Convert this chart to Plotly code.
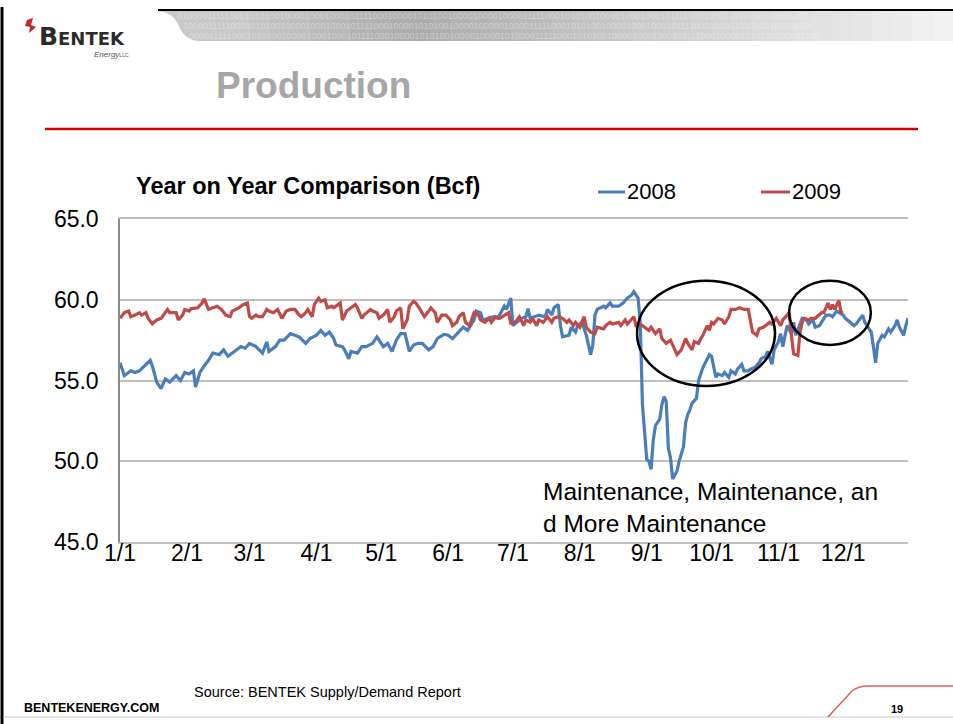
import plotly.graph_objects as go

# ---------------- data ----------------
month_ticks = [0, 31, 60, 91, 121, 152, 182, 213, 244, 274, 305, 335]
month_labels = ["1/1", "2/1", "3/1", "4/1", "5/1", "6/1", "7/1", "8/1", "9/1", "10/1", "11/1", "12/1"]
y_ticks = [45, 50, 55, 60, 65]
y_labels = ["45.0", "50.0", "55.0", "60.0", "65.0"]

days_2008 = [0, 2, 5, 7, 9, 12, 14, 15, 17, 19, 21, 23, 26, 28, 30, 32, 34, 35, 37, 39,
             41, 43, 46, 48, 50, 53, 56, 58, 60, 63, 66, 68, 69, 72, 74, 76, 79, 81, 83, 86,
             88, 91, 93, 95, 97, 99, 100, 103, 104, 106, 107, 110, 112, 114, 117, 119, 120, 122, 124, 126,
             128, 130, 132, 134, 136, 138, 140, 143, 145, 147, 150, 152, 154, 157, 159, 161, 164, 165, 167, 168,
             171, 173, 175, 178, 179, 181, 182, 184, 186, 188, 189, 190, 192, 194, 197, 198, 200, 201, 203, 204,
             205, 208, 209, 211, 212, 214, 216, 218, 219, 220, 221, 224, 225, 227, 228, 231, 233, 235, 237, 238,
             240, 241, 242, 243, 244, 245, 246, 247, 248, 250, 251, 252, 253, 254, 255, 256, 258, 259, 261, 262,
             263, 264, 265, 267, 268, 270, 271, 273, 274, 275, 276, 277, 279, 280, 282, 283, 285, 286, 288, 289,
             291, 292, 294, 296, 297, 299, 300, 302, 303, 305, 306, 307, 308, 309, 311, 312, 313, 315, 316, 318,
             319, 321, 322, 324, 326, 327, 329, 330, 332, 333, 335, 336, 338, 340, 341, 343, 344, 345, 347, 348,
             350, 351, 353, 354, 356, 357, 359, 360, 361, 363, 364, 365]
prod_2008 = [56.1, 55.3, 55.6, 55.5, 55.6, 56.0, 56.25, 55.9, 54.9, 54.5, 55.1, 54.9, 55.3, 55.0, 55.5, 55.4, 55.6, 54.6, 55.5, 55.9,
             56.25, 56.7, 56.6, 56.9, 56.5, 56.8, 57.1, 57.0, 57.3, 57.1, 56.7, 57.4, 56.8, 57.1, 57.5, 57.5, 57.9, 57.8, 57.7, 57.3,
             57.6, 57.8, 58.1, 57.8, 58.0, 57.6, 57.2, 57.1, 56.9, 56.35, 56.8, 56.7, 57.1, 57.1, 57.3, 57.7, 57.5, 57.1, 57.3, 56.8,
             57.5, 57.9, 57.9, 56.8, 57.2, 57.3, 57.3, 56.9, 57.1, 57.6, 57.85, 57.8, 57.6, 58.0, 58.3, 58.1, 58.75, 59.3, 59.2, 58.75,
             58.85, 58.95, 58.85, 59.6, 59.4, 60.1, 58.4, 58.6, 58.85, 58.95, 59.45, 58.85, 58.95, 59.05, 58.95, 59.4, 59.05, 59.5, 59.7, 58.4,
             57.7, 57.8, 58.3, 58.0, 58.4, 58.6, 57.8, 56.6, 57.2, 59.05, 59.4, 59.6, 59.5, 59.8, 59.6, 59.6, 59.8, 60.1, 60.3, 60.5,
             60.1, 58.5, 53.5, 51.65, 50.1, 50.0, 49.5, 51.3, 52.2, 52.6, 53.5, 54.0, 53.7, 50.8, 50.2, 48.9, 49.4, 50.0, 50.9, 52.4,
             52.9, 53.2, 53.6, 53.9, 55.0, 55.8, 56.1, 56.6, 56.5, 55.7, 55.2, 55.4, 55.3, 55.5, 55.2, 55.6, 55.4, 55.7, 56.0, 55.6,
             55.6, 55.7, 55.8, 56.1, 56.35, 56.5, 56.8, 56.0, 56.9, 57.4, 57.9, 57.1, 57.8, 58.4, 57.9, 58.6, 57.8, 58.5, 58.85, 58.75,
             58.5, 58.75, 58.3, 58.4, 58.85, 59.05, 59.05, 58.95, 59.3, 59.2, 59.05, 58.85, 58.6, 58.4, 58.5, 58.85, 59.05, 58.6, 58.2, 58.0,
             56.1, 57.3, 57.8, 57.7, 58.2, 58.0, 58.4, 58.75, 58.3, 57.8, 58.4, 58.85]

days_2009 = [0, 2, 4, 5, 7, 9, 10, 12, 13, 15, 17, 19, 22, 23, 26, 27, 29, 30, 32, 33,
             36, 38, 39, 41, 43, 45, 47, 49, 51, 52, 55, 57, 59, 60, 61, 63, 64, 66, 68, 69,
             71, 73, 75, 77, 79, 81, 83, 84, 86, 87, 89, 90, 92, 93, 95, 96, 98, 99, 101, 102,
             103, 105, 107, 109, 110, 112, 113, 116, 117, 119, 120, 122, 124, 125, 127, 128, 130, 131, 133, 134,
             136, 137, 139, 141, 143, 144, 146, 147, 149, 151, 153, 154, 156, 157, 159, 160, 162, 164, 166, 167,
             169, 171, 172, 174, 176, 178, 180, 181, 183, 185, 187, 188, 190, 191, 193, 194, 196, 198, 200, 201,
             203, 205, 207, 208, 210, 211, 213, 215, 216, 218, 220, 221, 224, 225, 227, 228, 231, 232, 234, 235,
             238, 239, 241, 243, 245, 246, 248, 250, 251, 253, 255, 257, 258, 260, 262, 263, 265, 266, 268, 269,
             270, 272, 273, 274, 275, 277, 279, 280, 282, 283, 285, 287, 289, 291, 292, 293, 295, 296, 298, 299,
             301, 302, 304, 306, 307, 309, 310, 311, 312, 314, 315, 316, 317, 319, 320, 322, 323, 325, 326, 328,
             329, 330, 331, 333, 334, 335]
prod_2009 = [58.85, 59.2, 59.3, 58.95, 59.05, 59.2, 59.05, 59.2, 58.85, 58.5, 58.75, 58.85, 59.4, 59.2, 59.2, 58.75, 59.05, 59.4, 59.3, 59.45,
             59.5, 59.8, 60.06, 59.4, 59.5, 59.6, 59.4, 59.05, 58.95, 59.3, 59.5, 59.7, 59.8, 58.95, 58.85, 59.05, 58.95, 58.95, 59.4, 59.3,
             59.2, 59.4, 58.85, 59.3, 59.4, 59.4, 59.05, 58.95, 59.2, 59.4, 58.95, 59.7, 60.1, 59.9, 60.0, 59.5, 59.6, 59.5, 59.7, 59.8,
             58.75, 59.3, 59.5, 59.7, 59.5, 58.85, 59.05, 59.4, 59.3, 59.2, 58.85, 59.05, 59.4, 58.6, 58.95, 59.3, 59.5, 58.2, 58.75, 59.6,
             59.9, 59.8, 59.4, 58.95, 59.3, 59.5, 59.2, 58.6, 59.05, 59.05, 58.75, 58.4, 58.6, 58.95, 59.2, 58.6, 58.4, 59.2, 59.05, 58.75,
             58.6, 58.85, 58.6, 58.95, 58.85, 59.05, 59.2, 58.55, 58.6, 58.95, 58.4, 58.75, 58.6, 58.85, 58.4, 58.75, 58.6, 58.95, 58.6, 58.85,
             58.95, 58.85, 58.6, 58.75, 58.4, 58.6, 58.3, 58.95, 58.3, 58.0, 57.9, 58.3, 58.2, 58.4, 58.6, 58.5, 58.6, 58.4, 58.75, 58.5,
             58.95, 58.4, 58.5, 58.3, 58.1, 58.3, 57.9, 58.2, 57.6, 57.3, 57.5, 56.9, 56.6, 56.9, 57.6, 57.3, 56.9, 57.4, 57.3, 57.6,
             57.8, 58.4, 58.1, 58.6, 58.5, 58.85, 58.75, 58.5, 58.95, 59.4, 59.4, 59.5, 59.4, 59.4, 58.6, 58.0, 57.8, 58.2, 58.3, 58.4,
             58.6, 58.5, 58.85, 58.4, 58.75, 59.05, 59.2, 57.8, 56.65, 56.55, 58.0, 58.6, 58.85, 58.75, 58.85, 58.85, 58.95, 59.2, 59.2, 59.8,
             59.4, 59.7, 59.4, 59.95, 59.2, 59.2]

# ---------------- styling ----------------
FONT = "Arial, 'Liberation Sans', sans-serif"
BLUE = "#4a7ebb"
RED = "#be4b48"
W, H = 953, 724
L, R, T, B = 120, 908, 219, 542


def px(x):
    return (x - L) / (R - L)


def py(y):
    return (B - y) / (B - T)


fig = go.Figure()
fig.add_trace(go.Scatter(x=days_2008, y=prod_2008, mode="lines", name="2008",
                         line=dict(color=BLUE, width=3.2)))
fig.add_trace(go.Scatter(x=days_2009, y=prod_2009, mode="lines", name="2009",
                         line=dict(color=RED, width=3.2)))

shapes = []
annotations = []

# banner gradient at top
shapes.append(dict(type="path", xref="paper", yref="paper",
                   path=f"M {px(158)} {py(11)} Q {px(172)} {py(12)} {px(178)} {py(24)} "
                        f"Q {px(184)} {py(41)} {px(200)} {py(41)} L {px(232)} {py(41)} L {px(232)} {py(11)} Z",
                   fillcolor="#c8c8c8", line=dict(width=0), layer="below"))
n = 36
x_start = 230
for i in range(n):
    x0 = x_start + (W - x_start) * i / n
    x1 = x_start + (W - x_start) * (i + 1) / n + 1
    t = i / (n - 1)
    if t < 0.25:
        g = int(200 - (200 - 172) * t / 0.25)
    else:
        g = int(172 + (242 - 172) * (t - 0.25) / 0.75)
    shapes.append(dict(type="rect", xref="paper", yref="paper",
                       x0=px(x0), x1=px(x1), y0=py(41), y1=py(11),
                       fillcolor=f"rgb({g},{g},{g})", line=dict(width=0), layer="below"))
binary = "0100001111100010101001000010001000101111000100001010100100001000"
for k, yy in enumerate([16, 26, 36]):
    annotations.append(dict(xref="paper", yref="paper", x=px(175 + 6 * k), y=py(yy),
                            text=binary[k:] + binary[:k] + binary, showarrow=False,
                            xanchor="left", yanchor="middle",
                            font=dict(family=FONT, size=9, color="rgba(255,255,255,0.35)")))

# frame lines
shapes.append(dict(type="line", xref="paper", yref="paper", x0=px(158), x1=px(W), y0=py(10), y1=py(10),
                   line=dict(color="black", width=2)))
shapes.append(dict(type="line", xref="paper", yref="paper", x0=px(2), x1=px(2), y0=py(7), y1=py(H),
                   line=dict(color="black", width=3)))
shapes.append(dict(type="line", xref="paper", yref="paper", x0=px(3), x1=px(W), y0=py(717), y1=py(717),
                   line=dict(color="#c8c8c8", width=1)))

# red header rule
shapes.append(dict(type="line", xref="paper", yref="paper", x0=px(45), x1=px(918), y0=py(129), y1=py(129),
                   line=dict(color="#d40000", width=2.5)))

# logo mark
shapes.append(dict(type="path", xref="paper", yref="paper",
                   path=f"M {px(27)} {py(20)} L {px(33)} {py(18)} L {px(31)} {py(25)} L {px(36)} {py(27)} "
                        f"L {px(29)} {py(33)} L {px(30)} {py(27)} L {px(25)} {py(26)} Z",
                   fillcolor="#c0282d", line=dict(width=0)))

# footer red swoosh
shapes.append(dict(type="path", xref="paper", yref="paper",
                   path=f"M {px(828)} {py(717)} L {px(852)} {py(691)} Q {px(858)} {py(686)} {px(868)} {py(686)} L {px(W)} {py(686)}",
                   line=dict(color="#e06060", width=1.5)))

# legend (drawn)
shapes.append(dict(type="line", xref="paper", yref="paper", x0=px(598), x1=px(625), y0=py(192), y1=py(192),
                   line=dict(color=BLUE, width=3)))
shapes.append(dict(type="line", xref="paper", yref="paper", x0=px(761), x1=px(790), y0=py(192), y1=py(192),
                   line=dict(color=RED, width=3)))
annotations.append(dict(xref="paper", yref="paper", x=px(625), y=py(192), text="2008", showarrow=False,
                        xanchor="left", yanchor="middle", font=dict(family=FONT, size=22, color="black")))
annotations.append(dict(xref="paper", yref="paper", x=px(790), y=py(192), text="2009", showarrow=False,
                        xanchor="left", yanchor="middle", font=dict(family=FONT, size=22, color="black")))

# ellipses highlighting maintenance periods
shapes.append(dict(type="circle", xref="x", yref="y", x0=239.5, x1=303.4, y0=54.66, y1=61.18,
                   line=dict(color="black", width=2.5)))
shapes.append(dict(type="circle", xref="x", yref="y", x0=309.9, x1=347.8, y0=57.2, y1=61.18,
                   line=dict(color="black", width=2.5)))

# texts
annotations += [
    dict(xref="paper", yref="paper", x=px(37), y=py(37),
         text="<b>B<span style='font-size:18px'>ENTEK</span></b>", showarrow=False,
         xanchor="left", yanchor="middle", font=dict(family="'DejaVu Sans', sans-serif", size=25, color="#2b2b2b")),
    dict(xref="paper", yref="paper", x=px(131), y=py(54),
         text="<i>Energy</i><span style='font-size:5px'>LLC</span>", showarrow=False,
         xanchor="right", yanchor="middle", font=dict(family=FONT, size=8, color="#555555")),
    dict(xref="paper", yref="paper", x=px(214), y=py(85), text="<b>Production</b>", showarrow=False,
         xanchor="left", yanchor="middle", font=dict(family=FONT, size=37, color="#a6a6a6")),
    dict(xref="paper", yref="paper", x=px(134), y=py(186), text="<b>Year on Year Comparison (Bcf)</b>",
         showarrow=False, xanchor="left", yanchor="middle", font=dict(family=FONT, size=23.5, color="black")),
    dict(xref="paper", yref="paper", x=px(541), y=py(507),
         text="Maintenance, Maintenance, an<br>d More Maintenance", showarrow=False, align="left",
         xanchor="left", yanchor="middle", font=dict(family=FONT, size=24.5, color="black")),
    dict(xref="paper", yref="paper", x=px(192), y=py(692), text="Source: BENTEK Supply/Demand Report",
         showarrow=False, xanchor="left", yanchor="middle", font=dict(family=FONT, size=14.5, color="black")),
    dict(xref="paper", yref="paper", x=px(22), y=py(708), text="<b>BENTEKENERGY.COM</b>",
         showarrow=False, xanchor="left", yanchor="middle", font=dict(family=FONT, size=12.5, color="black")),
    dict(xref="paper", yref="paper", x=px(897), y=py(709), text="<b>19</b>",
         showarrow=False, xanchor="center", yanchor="middle", font=dict(family=FONT, size=11, color="black")),
]

fig.update_layout(
    width=W, height=H,
    margin=dict(l=L, r=W - R, t=T, b=H - B, pad=0),
    paper_bgcolor="white", plot_bgcolor="white",
    showlegend=False,
    font=dict(family=FONT, color="black"),
    shapes=shapes, annotations=annotations,
    xaxis=dict(range=[0, 365], tickmode="array", tickvals=month_ticks, ticktext=month_labels,
               showgrid=False, zeroline=False, showline=True, linecolor="#bfbfbf", linewidth=2, mirror=True,
               ticks="", tickfont=dict(size=23, color="black"), ticklabelstandoff=-11, fixedrange=True),
    yaxis=dict(range=[45, 65], tickmode="array", tickvals=y_ticks, ticktext=y_labels,
               showgrid=True, gridcolor="#bfbfbf", gridwidth=2, zeroline=False,
               showline=True, linecolor="#8c8c8c", linewidth=1.5,
               ticks="", tickfont=dict(size=23, color="black"), ticklabelstandoff=15, fixedrange=True),
)

fig.write_html("out.html", config={"displayModeBar": False},
               post_script="document.body.style.margin='0';document.body.style.overflow='hidden';")
